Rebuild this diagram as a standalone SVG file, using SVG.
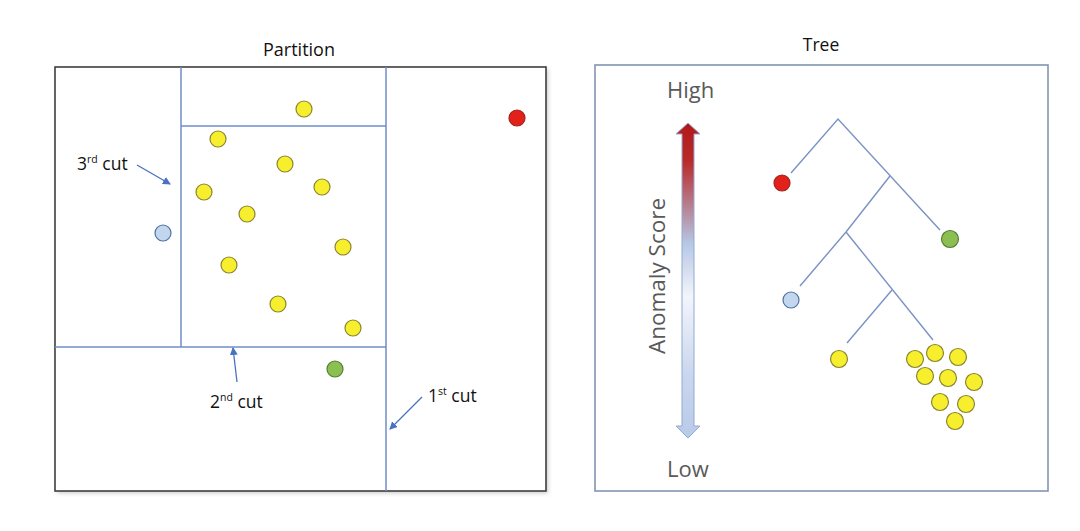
<svg xmlns="http://www.w3.org/2000/svg" width="1080" height="531" viewBox="0 0 1080 531">
<style>
.t{font-family:"Open Sans","Liberation Sans",sans-serif;fill:#111111}
.cut{stroke:#6f8dc9;stroke-width:1.5;fill:none}
.ann{stroke:#4a72c0;stroke-width:1.3;fill:none;marker-end:url(#ah)}
.br{stroke:#7a92c4;stroke-width:1.4;fill:none}
.y{fill:#f7ef2e;stroke:#8a8530;stroke-width:1.2}
.r{fill:#e3211b;stroke:#a0241f;stroke-width:1.2}
.b{fill:#c2d6ee;stroke:#4f72a8;stroke-width:1.2}
.g{fill:#8cbf52;stroke:#547d35;stroke-width:1.2}
.lbl{font-family:"Open Sans","Liberation Sans",sans-serif;fill:#595959}
</style>
<defs>
<marker id="ah" markerWidth="8" markerHeight="8" refX="7" refY="4" orient="auto" markerUnits="userSpaceOnUse">
<path d="M0,0 L8,4 L0,8 Z" fill="#4a72c0"/>
</marker>
<linearGradient id="sg" x1="0" y1="123" x2="0" y2="438" gradientUnits="userSpaceOnUse">
<stop offset="0" stop-color="#b41818"/>
<stop offset="0.12" stop-color="#b82a2a"/>
<stop offset="0.38" stop-color="#b6c6e4"/>
<stop offset="0.55" stop-color="#f2f5fb"/>
<stop offset="0.8" stop-color="#c9d6ee"/>
<stop offset="1" stop-color="#b9cae8"/>
</linearGradient>
<filter id="sh" x="-5%" y="-5%" width="110%" height="110%">
<feGaussianBlur stdDeviation="2"/>
</filter>
</defs>
<rect width="1080" height="531" fill="#ffffff"/>

<g id="partition">
<text class="t" x="299" y="56" font-size="18" text-anchor="middle">Partition</text>
<rect x="57" y="69" width="491" height="424" fill="#c8c8c8" filter="url(#sh)"/>
<rect x="55" y="67" width="491" height="424" fill="#ffffff" stroke="#3f3f3f" stroke-width="1.6"/>
</g>

<g id="cuts">
<line class="cut" x1="386" y1="67" x2="386" y2="491"/>
<line class="cut" x1="55" y1="347" x2="386" y2="347"/>
<line class="cut" x1="181" y1="67" x2="181" y2="347"/>
<line class="cut" x1="181" y1="126" x2="386" y2="126"/>
</g>

<g id="cut-labels">
<text class="t" x="77" y="170" font-size="17.5">3<tspan font-size="10.5" dy="-7">rd</tspan><tspan dy="7"> cut</tspan></text>
<text class="t" x="210" y="408" font-size="17.5">2<tspan font-size="10.5" dy="-7">nd</tspan><tspan dy="7"> cut</tspan></text>
<text class="t" x="428" y="402" font-size="17.5">1<tspan font-size="10.5" dy="-7">st</tspan><tspan dy="7"> cut</tspan></text>
</g>

<g id="annotation-arrows">
<line class="ann" x1="137" y1="165" x2="170" y2="184"/>
<line class="ann" x1="237" y1="382" x2="233" y2="348"/>
<line class="ann" x1="422" y1="397" x2="390" y2="429"/>
</g>

<g id="partition-points">
<circle class="y" cx="304" cy="109" r="8"/>
<circle class="r" cx="517" cy="118" r="8"/>
<circle class="y" cx="218" cy="139" r="8"/>
<circle class="y" cx="285" cy="164" r="8"/>
<circle class="y" cx="204" cy="192" r="8"/>
<circle class="y" cx="322" cy="187" r="8"/>
<circle class="y" cx="247" cy="214" r="8"/>
<circle class="b" cx="163" cy="233" r="8"/>
<circle class="y" cx="343" cy="247" r="8"/>
<circle class="y" cx="229" cy="265" r="8"/>
<circle class="y" cx="278" cy="304" r="8"/>
<circle class="y" cx="353" cy="328" r="8"/>
<circle class="g" cx="335" cy="369" r="8"/>
</g>

<g id="tree-panel">
<text class="t" x="821" y="51" font-size="17.5" text-anchor="middle">Tree</text>
<rect x="595" y="65" width="453" height="426" fill="#ffffff" stroke="#8294b3" stroke-width="1.6"/>
</g>

<g id="score-axis">
<text class="lbl" x="667" y="98" font-size="22">High</text>
<text class="lbl" x="667" y="477" font-size="22">Low</text>
<text class="lbl" x="665" y="276" font-size="22.5" text-anchor="middle" transform="rotate(-90 665 276)">Anomaly Score</text>
<polygon points="688,123 700,134 694,134 694,426 700,426 688,438 676,426 682,426 682,134 676,134" fill="url(#sg)" stroke="#93a9d3" stroke-width="1"/>
</g>

<g id="tree-branches">
<polyline class="br" points="791,173 838,119 940,230"/>
<polyline class="br" points="890,176 846,232 800,286"/>
<line class="br" x1="846" y1="232" x2="933" y2="340"/>
<line class="br" x1="892" y1="290" x2="847" y2="343"/>
</g>

<g id="tree-nodes">
<circle class="r" cx="782" cy="183" r="8"/>
<circle class="g" cx="950" cy="239" r="8.5"/>
<circle class="b" cx="791" cy="300" r="8"/>
<circle class="y" cx="839" cy="359" r="8.5"/>
<circle class="y" cx="915" cy="359" r="8.5"/>
<circle class="y" cx="935" cy="353" r="8.5"/>
<circle class="y" cx="958" cy="357" r="8.5"/>
<circle class="y" cx="925" cy="376" r="8.5"/>
<circle class="y" cx="948" cy="378" r="8.5"/>
<circle class="y" cx="974" cy="382" r="8.5"/>
<circle class="y" cx="940" cy="402" r="8.5"/>
<circle class="y" cx="966" cy="404" r="8.5"/>
<circle class="y" cx="955" cy="421" r="8.5"/>
</g>
</svg>
